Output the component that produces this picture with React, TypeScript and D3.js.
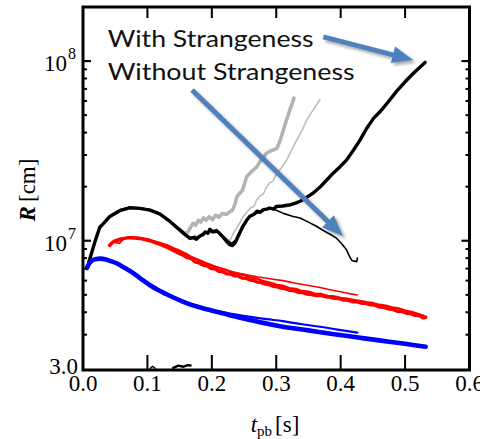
import React from 'react';
import * as d3 from 'd3';

type P = [number, number];

// ---------- axes ----------
const xTicks = [0, 0.1, 0.2, 0.3, 0.4, 0.5, 0.6];
const xTickLabels = ['0.0', '0.1', '0.2', '0.3', '0.4', '0.5', '0.6'];
const yMajorTicks = [1e7, 1e8];
const yMajorExp = ['7', '8'];
const yMinorTicks = [3e6, 4e6, 5e6, 6e6, 7e6, 8e6, 9e6, 2e7, 3e7, 4e7, 5e7, 6e7, 7e7, 8e7, 9e7];
const yBottomLabel = '3.0';
const xDomain: P = [0, 0.6];
const yDomain: P = [1.908e6, 2.0e8];

// ---------- series ----------
const blackWith: P[] = [
  [0.009, 7.6e6], [0.019, 1.0e7], [0.026, 1.19e7], [0.032, 1.25e7], [0.041, 1.36e7], [0.057, 1.47e7],
  [0.072, 1.525e7], [0.088, 1.515e7], [0.104, 1.48e7], [0.119, 1.41e7], [0.135, 1.28e7], [0.15, 1.15e7],
  [0.16, 1.07e7], [0.166, 1.03e7], [0.171, 1.04e7], [0.176, 1.02e7], [0.181, 1.06e7], [0.186, 1.08e7],
  [0.19, 1.12e7], [0.194, 1.1e7], [0.197, 1.16e7], [0.201, 1.12e7], [0.207, 1.14e7], [0.212, 1.1e7],
  [0.217, 1.05e7], [0.222, 1.0e7], [0.228, 9.5e6], [0.232, 9.4e6], [0.236, 9.7e6], [0.242, 1.08e7],
  [0.248, 1.2e7], [0.254, 1.3e7], [0.259, 1.37e7], [0.265, 1.4e7], [0.27, 1.46e7], [0.275, 1.44e7],
  [0.28, 1.49e7], [0.285, 1.5e7], [0.29, 1.52e7], [0.296, 1.5e7], [0.3, 1.55e7], [0.31, 1.56e7],
  [0.32, 1.58e7], [0.33, 1.62e7], [0.337, 1.66e7], [0.345, 1.72e7], [0.357, 1.84e7], [0.368, 1.99e7],
  [0.378, 2.17e7], [0.388, 2.37e7], [0.399, 2.58e7], [0.409, 2.81e7], [0.42, 3.2e7], [0.43, 3.63e7],
  [0.44, 4.2e7], [0.451, 4.8e7], [0.461, 5.22e7], [0.474, 5.94e7], [0.487, 6.8e7], [0.5, 7.67e7],
  [0.515, 8.7e7], [0.531, 9.83e7],
];

const blackWithout: P[] = [
  [0.008, 7.4e6], [0.018, 9.7e6], [0.026, 1.17e7], [0.034, 1.28e7], [0.045, 1.4e7], [0.058, 1.49e7],
  [0.072, 1.535e7], [0.088, 1.525e7], [0.104, 1.49e7], [0.119, 1.42e7], [0.135, 1.29e7], [0.15, 1.16e7],
  [0.16, 1.08e7], [0.167, 1.04e7], [0.173, 1.06e7], [0.178, 1.04e7], [0.184, 1.09e7], [0.19, 1.11e7],
  [0.196, 1.13e7], [0.203, 1.11e7], [0.209, 1.12e7], [0.215, 1.08e7], [0.22, 1.04e7], [0.226, 9.9e6],
  [0.231, 9.7e6], [0.236, 1.0e7], [0.242, 1.1e7], [0.248, 1.22e7], [0.255, 1.32e7], [0.262, 1.38e7],
  [0.27, 1.42e7], [0.278, 1.46e7], [0.285, 1.5e7], [0.29, 1.51e7], [0.3, 1.48e7], [0.311, 1.42e7],
  [0.325, 1.37e7], [0.337, 1.34e7], [0.35, 1.27e7], [0.363, 1.2e7], [0.375, 1.13e7], [0.385, 1.08e7],
  [0.394, 1.03e7], [0.402, 9.6e6], [0.409, 8.9e6], [0.413, 8.3e6], [0.417, 7.8e6], [0.421, 7.7e6],
  [0.425, 7.65e6], [0.426, 8.0e6],
];

const grayThick: P[] = [
  [0.15, 1.16e7], [0.158, 1.1e7], [0.163, 1.12e7], [0.167, 1.19e7], [0.171, 1.25e7], [0.175, 1.22e7],
  [0.179, 1.3e7], [0.183, 1.27e7], [0.187, 1.34e7], [0.191, 1.3e7], [0.196, 1.36e7], [0.201, 1.31e7],
  [0.206, 1.39e7], [0.211, 1.35e7], [0.216, 1.42e7], [0.222, 1.4e7], [0.227, 1.44e7], [0.232, 1.48e7],
  [0.236, 1.6e7], [0.239, 1.76e7], [0.244, 1.85e7], [0.248, 1.92e7], [0.254, 2.27e7], [0.258, 2.35e7],
  [0.263, 2.45e7], [0.27, 2.58e7], [0.276, 2.8e7], [0.281, 2.95e7], [0.285, 3.07e7], [0.29, 3.15e7],
  [0.295, 3.2e7], [0.301, 3.27e7], [0.306, 3.6e7], [0.311, 4.13e7], [0.316, 4.7e7], [0.321, 5.34e7],
  [0.3275, 6.22e7],
];

const grayThin: P[] = [
  [0.21, 1.12e7], [0.216, 1.08e7], [0.222, 1.03e7], [0.228, 1.0e7], [0.2333, 1.1e7], [0.24, 1.2e7],
  [0.2488, 1.36e7], [0.255, 1.45e7], [0.26, 1.52e7], [0.265, 1.55e7], [0.2696, 1.685e7], [0.275, 1.78e7],
  [0.28, 1.82e7], [0.2852, 2.0e7], [0.29, 2.1e7], [0.295, 2.15e7], [0.3007, 2.37e7], [0.308, 2.55e7],
  [0.3162, 2.81e7], [0.322, 3.1e7], [0.3317, 3.63e7], [0.34, 4.1e7], [0.3473, 4.7e7], [0.355, 5.2e7],
  [0.3679, 6.11e7],
];

const redThick: P[] = [
  [0.041, 9.45e6], [0.046, 9.8e6], [0.05, 1.0e7], [0.056, 1.01e7], [0.064, 1.03e7], [0.072, 1.04e7],
  [0.08, 1.035e7], [0.088, 1.03e7], [0.096, 1.015e7], [0.104, 1.0e7], [0.112, 9.75e6], [0.12, 9.55e6],
  [0.129, 9.25e6], [0.137, 8.95e6], [0.146, 8.62e6], [0.155, 8.33e6], [0.162, 8.05e6], [0.168, 7.95e6],
  [0.174, 7.62e6], [0.181, 7.5e6], [0.187, 7.3e6], [0.193, 7.25e6], [0.199, 7.0e6], [0.205, 6.98e6],
  [0.211, 6.75e6], [0.217, 6.72e6], [0.223, 6.55e6], [0.229, 6.52e6], [0.235, 6.38e6], [0.241, 6.35e6],
  [0.247, 6.2e6], [0.253, 6.18e6], [0.259, 6.05e6], [0.265, 6.02e6], [0.271, 5.88e6], [0.277, 5.85e6],
  [0.283, 5.74e6], [0.289, 5.7e6], [0.295, 5.58e6], [0.301, 5.55e6], [0.307, 5.45e6], [0.313, 5.42e6],
  [0.32, 5.3e6], [0.327, 5.28e6], [0.334, 5.17e6], [0.341, 5.14e6], [0.348, 5.05e6], [0.355, 5.02e6],
  [0.362, 4.95e6], [0.369, 4.97e6], [0.376, 4.88e6], [0.383, 4.86e6], [0.39, 4.78e6], [0.397, 4.76e6],
  [0.404, 4.68e6], [0.411, 4.67e6], [0.418, 4.58e6], [0.425, 4.58e6], [0.432, 4.49e6], [0.439, 4.48e6],
  [0.446, 4.4e6], [0.453, 4.38e6], [0.46, 4.28e6], [0.467, 4.26e6], [0.474, 4.17e6], [0.481, 4.15e6],
  [0.488, 4.05e6], [0.495, 4.04e6], [0.502, 3.95e6], [0.509, 3.93e6], [0.516, 3.84e6], [0.523, 3.82e6],
  [0.528, 3.72e6], [0.532, 3.75e6],
];

const redMid: P[] = [
  [0.05, 9.9e6], [0.06, 1.02e7], [0.07, 1.04e7], [0.08, 1.04e7], [0.09, 1.035e7], [0.1, 1.02e7],
  [0.11, 9.95e6], [0.12, 9.7e6], [0.13, 9.45e6], [0.14, 9.1e6], [0.15, 8.8e6], [0.16, 8.45e6],
  [0.17, 8.05e6], [0.18, 7.8e6], [0.19, 7.5e6], [0.2, 7.3e6], [0.21, 7.05e6], [0.22, 6.9e6],
  [0.23, 6.7e6], [0.24, 6.55e6], [0.25, 6.45e6], [0.26, 6.25e6], [0.27, 6.15e6], [0.28, 5.95e6],
  [0.29, 5.85e6], [0.3, 5.7e6], [0.31, 5.62e6], [0.32, 5.45e6], [0.33, 5.4e6], [0.34, 5.25e6],
  [0.35, 5.2e6], [0.36, 5.08e6], [0.37, 5.05e6], [0.38, 4.93e6], [0.39, 4.9e6], [0.4, 4.8e6],
  [0.41, 4.76e6], [0.42, 4.68e6], [0.43, 4.63e6], [0.44, 4.55e6], [0.45, 4.5e6], [0.46, 4.4e6],
  [0.47, 4.35e6], [0.48, 4.25e6], [0.49, 4.2e6], [0.5, 4.08e6], [0.51, 4.02e6], [0.52, 3.92e6],
  [0.53, 3.8e6],
];

const redThin: P[] = [
  [0.042, 9.3e6], [0.05, 1.005e7], [0.058, 1.035e7], [0.064, 1.03e7], [0.057, 9.7e6], [0.05, 9.75e6],
  [0.055, 1.01e7], [0.065, 1.035e7], [0.075, 1.045e7], [0.088, 1.035e7], [0.1, 1.015e7], [0.115, 9.8e6],
  [0.13, 9.4e6], [0.145, 8.9e6], [0.16, 8.4e6], [0.175, 7.95e6], [0.19, 7.55e6], [0.205, 7.2e6],
  [0.22, 6.92e6], [0.233, 6.7e6], [0.25, 6.5e6], [0.27, 6.3e6], [0.29, 6.15e6], [0.3105, 6.0e6],
  [0.33, 5.8e6], [0.35, 5.63e6], [0.368, 5.49e6], [0.385, 5.32e6], [0.4, 5.2e6], [0.413, 5.08e6],
  [0.4258, 4.99e6],
];

const blueThick: P[] = [
  [0.006, 7.05e6], [0.01, 7.5e6], [0.015, 7.8e6], [0.021, 7.92e6], [0.028, 7.95e6], [0.034, 7.88e6],
  [0.043, 7.7e6], [0.052, 7.5e6], [0.065, 7.05e6], [0.078, 6.6e6], [0.091, 6.1e6], [0.1035, 5.67e6],
  [0.116, 5.33e6], [0.129, 5.05e6], [0.142, 4.8e6], [0.155, 4.58e6], [0.168, 4.4e6], [0.181, 4.26e6],
  [0.194, 4.14e6], [0.207, 4.03e6], [0.22, 3.92e6], [0.233, 3.81e6], [0.259, 3.62e6], [0.285, 3.46e6],
  [0.31, 3.32e6], [0.35, 3.17e6], [0.39, 3.02e6], [0.425, 2.9e6], [0.46, 2.79e6], [0.5, 2.67e6],
  [0.532, 2.57e6],
];

const blueThin: P[] = [
  [0.006, 7.1e6], [0.01, 7.55e6], [0.015, 7.85e6], [0.021, 7.95e6], [0.028, 7.97e6], [0.034, 7.9e6],
  [0.043, 7.72e6], [0.052, 7.52e6], [0.065, 7.08e6], [0.078, 6.63e6], [0.091, 6.13e6], [0.1035, 5.7e6],
  [0.116, 5.37e6], [0.129, 5.09e6], [0.142, 4.85e6], [0.155, 4.64e6], [0.168, 4.46e6], [0.181, 4.3e6],
  [0.2, 4.13e6], [0.233, 3.91e6], [0.26, 3.77e6], [0.285, 3.66e6], [0.31, 3.57e6], [0.34, 3.43e6],
  [0.368, 3.32e6], [0.395, 3.2e6], [0.426, 3.08e6],
];

const bottomBlack1: P[] = [[0.102, 1.85e6], [0.105, 1.96e6], [0.108, 2.0e6], [0.112, 1.95e6]];
const bottomBlack2: P[] = [[0.14, 1.96e6], [0.148, 2.02e6], [0.156, 1.99e6], [0.163, 2.03e6], [0.167, 2.02e6]];

// ---------- annotations (data coords) ----------
const annoTexts = ['With Strangeness', 'Without Strangeness'];
const annoTextPos: P[] = [[0.0383, 1.2e8], [0.0383, 7.84e7]];
const annoTextWidth = [206, 247];
const arrowFrom: P[] = [[0.373, 1.365e8], [0.1692, 6.9e7]];
const arrowTo: P[] = [[0.5127, 1.013e8], [0.4036, 1.062e7]];

const W = 480;
const H = 439;
const PL = 83, PR = 469.5, PT = 7, PB = 370;

const x = d3.scaleLinear().domain(xDomain).range([PL, PR]);
const y = d3.scaleLog().domain(yDomain).range([PB, PT]);

const lineLin = d3.line<P>().x(d => x(d[0])).y(d => y(d[1])).curve(d3.curveLinear);
const lineSmooth = d3.line<P>().x(d => x(d[0])).y(d => y(d[1])).curve(d3.curveCatmullRom.alpha(0.5));

function arrowPath(x1: number, y1: number, x2: number, y2: number, sw: number, hw: number, hl: number) {
  const dx = x2 - x1, dy = y2 - y1, L = Math.hypot(dx, dy);
  const ux = dx / L, uy = dy / L, nx = -uy, ny = ux;
  const bx = x2 - ux * hl, by = y2 - uy * hl;
  const pts = [
    [x1 + nx * sw / 2, y1 + ny * sw / 2],
    [bx + nx * sw / 2, by + ny * sw / 2],
    [bx + nx * hw / 2, by + ny * hw / 2],
    [x2, y2],
    [bx - nx * hw / 2, by - ny * hw / 2],
    [bx - nx * sw / 2, by - ny * sw / 2],
    [x1 - nx * sw / 2, y1 - ny * sw / 2],
  ];
  return 'M' + pts.map(p => p[0].toFixed(2) + ',' + p[1].toFixed(2)).join('L') + 'Z';
}

const serif = '"Liberation Serif", "Times New Roman", serif';

export default function App() {
  return (
    <svg width={W} height={H} style={{ position: 'absolute', left: 0, top: 0, background: '#fff' }}>
      <defs>
        <clipPath id="plotclip">
          <rect x={PL} y={PT} width={PR - PL} height={PB - PT} />
        </clipPath>
        <filter id="shadow" x="-20%" y="-20%" width="140%" height="140%">
          <feDropShadow dx="2.5" dy="2.5" stdDeviation="1.6" floodColor="#000" floodOpacity="0.35" />
        </filter>
      </defs>
      <rect x={0} y={0} width={W} height={H} fill="#fff" />

      <g clipPath="url(#plotclip)" fill="none" strokeLinejoin="round" strokeLinecap="round">
        <path d={lineLin(grayThick) || ''} stroke="#b3b3b3" strokeWidth={3.6} />
        <path d={lineLin(grayThin) || ''} stroke="#bdbdbd" strokeWidth={1.6} />
        <path d={lineLin(blackWithout) || ''} stroke="#000" strokeWidth={1.6} />
        <path d={lineLin(blackWith) || ''} stroke="#000" strokeWidth={3.4} />
        <path d={lineLin(redThin) || ''} stroke="#ff0000" strokeWidth={1.6} />
        <path d={lineLin(redMid) || ''} stroke="#ff0000" strokeWidth={2.4} />
        <path d={lineLin(redThick) || ''} stroke="#ff0000" strokeWidth={3.4} />
        <path d={lineSmooth(blueThin) || ''} stroke="#0000ff" strokeWidth={2.2} />
        <path d={lineSmooth(blueThick) || ''} stroke="#0000ff" strokeWidth={4.6} />
        <path d={lineLin(bottomBlack1) || ''} stroke="#000" strokeWidth={1.4} />
        <path d={lineLin(bottomBlack2) || ''} stroke="#000" strokeWidth={2.4} />
      </g>

      {/* frame */}
      <rect x={PL} y={PT} width={PR - PL} height={PB - PT} fill="none" stroke="#000" strokeWidth={3} />

      {/* x ticks */}
      {xTicks.map((t, i) => (
        <g key={'xt' + i}>
          <line x1={x(t)} x2={x(t)} y1={PB} y2={PB - 15} stroke="#000" strokeWidth={2} />
          <line x1={x(t)} x2={x(t)} y1={PT} y2={PT + 11} stroke="#000" strokeWidth={2} />
          <text x={x(t)} y={391} textAnchor="middle" fontFamily={serif} fontSize={23}>{xTickLabels[i]}</text>
        </g>
      ))}

      {/* y ticks */}
      {yMajorTicks.map((v, i) => (
        <g key={'ym' + i}>
          <line x1={PL} x2={PL + 8} y1={y(v)} y2={y(v)} stroke="#000" strokeWidth={2.2} />
          <line x1={PR} x2={PR - 8} y1={y(v)} y2={y(v)} stroke="#000" strokeWidth={2.2} />
          <text x={67} y={y(v) + 10} textAnchor="end" fontFamily={serif} fontSize={23}>10</text>
          <text x={68} y={y(v) - 2} textAnchor="start" fontFamily={serif} fontSize={16}>{yMajorExp[i]}</text>
        </g>
      ))}
      {yMinorTicks.map((v, i) => (
        <g key={'yn' + i}>
          <line x1={PL} x2={PL + 4} y1={y(v)} y2={y(v)} stroke="#000" strokeWidth={2} />
          <line x1={PR} x2={PR - 4} y1={y(v)} y2={y(v)} stroke="#000" strokeWidth={2} />
        </g>
      ))}
      <text x={78} y={374} textAnchor="end" fontFamily={serif} fontSize={23}>{yBottomLabel}</text>

      {/* axis titles */}
      <text x={275} y={432} textAnchor="middle" fontFamily={serif} fontSize={23}>
        <tspan fontStyle="italic">t</tspan>
        <tspan fontSize={15} dy={4}>pb</tspan>
        <tspan dy={-4} dx={3}>[s]</tspan>
      </text>
      <text transform="translate(35,190) rotate(-90)" textAnchor="middle" fontFamily={serif} fontSize={23}>
        <tspan fontStyle="italic" fontWeight="bold">R</tspan>
        <tspan dx={4}>[cm]</tspan>
      </text>

      {/* annotations */}
      {annoTexts.map((s, i) => (
        <text key={'at' + i} x={x(annoTextPos[i][0])} y={y(annoTextPos[i][1])} fontFamily="Lato, 'Open Sans', sans-serif"
          fontSize={24} fill="#111" textLength={annoTextWidth[i]} lengthAdjust="spacingAndGlyphs">{s}</text>
      ))}
      {arrowFrom.map((f, i) => (
        <path key={'ar' + i}
          d={arrowPath(x(f[0]), y(f[1]), x(arrowTo[i][0]), y(arrowTo[i][1]), 5, 17, 21)}
          fill="#4f81bd" filter="url(#shadow)" />
      ))}
    </svg>
  );
}
